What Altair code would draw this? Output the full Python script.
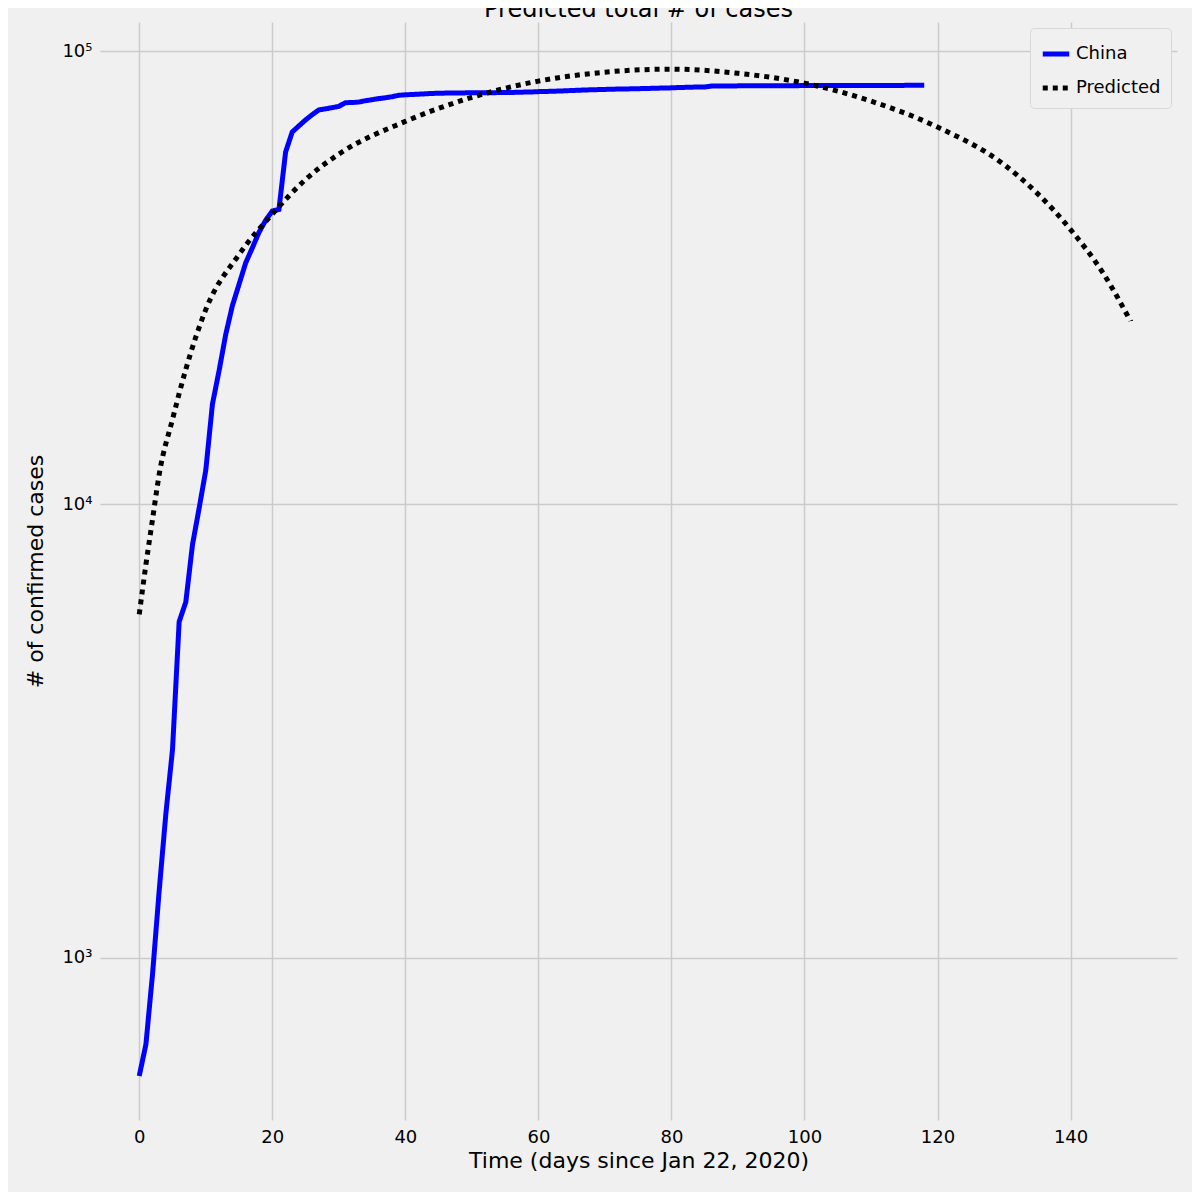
import altair as alt
import pandas as pd

china = [548, 643, 920, 1406, 2075, 2877, 5509, 6087, 8141, 9802, 11891, 16630, 19716, 23707, 27440, 30587, 34110, 36814, 39829, 42354, 44386, 44759, 59895, 66358, 68413, 70513, 72434, 74211, 74619, 75077, 75550, 77001, 77022, 77241, 77754, 78166, 78600, 78928, 79356, 79932, 80136, 80261, 80386, 80537, 80690, 80770, 80823, 80860, 80887, 80921, 80932, 80945, 80977, 81003, 81033, 81058, 81102, 81156, 81250, 81305, 81435, 81498, 81591, 81661, 81782, 81897, 81999, 82122, 82198, 82279, 82361, 82432, 82511, 82543, 82602, 82665, 82718, 82809, 82883, 82941, 83014, 83134, 83213, 83306, 83356, 83403, 83760, 83787, 83805, 83817, 83853, 83868, 83884, 83899, 83909, 83912, 83918, 83940, 83944, 83956, 83959, 83964, 83966, 83968, 83970, 83975, 83976, 84010, 84011, 84024, 84029, 84038, 84044, 84054, 84063, 84063, 84081, 84084, 84095]
pred_days = [0, 1, 2, 3, 5, 7, 10, 15, 20, 25, 30, 40, 50, 60, 70, 80, 90, 100, 110, 120, 130, 140, 145, 149]
pred_vals = [5720, 7360, 9270, 11650, 15400, 19860, 26900, 35600, 43700, 52100, 59300, 70000, 79100, 85900, 89900, 91300, 89400, 85000, 77600, 68000, 56200, 40400, 32200, 25400]

rows = [{"day": i, "cases": v, "series": "China"} for i, v in enumerate(china)]
rows += [{"day": d, "cases": v, "series": "Predicted"} for d, v in zip(pred_days, pred_vals)]
df = pd.DataFrame(rows)

enc = dict(
    x=alt.X("day:Q", title="Time (days since Jan 22, 2020)",
            scale=alt.Scale(domain=[-5.9, 156], nice=False, zero=False),
            axis=alt.Axis(values=[0, 20, 40, 60, 80, 100, 120, 140])),
    y=alt.Y("cases:Q", title="# of confirmed cases",
            scale=alt.Scale(type="log", domain=[438, 116000], nice=False),
            axis=alt.Axis(values=[1000, 10000, 100000], titlePadding=14,
                          labelExpr="datum.value==1000?'10³':datum.value==10000?'10⁴':'10⁵'")),
    color=alt.Color("series:N", title=None,
                    scale=alt.Scale(domain=["China", "Predicted"], range=["#0000ff", "#000000"]),
                    legend=alt.Legend(orient="top-right", symbolType="stroke", symbolStrokeWidth=5,
                                      symbolSize=700, labelFontSize=18, fillColor="#f0f0f0",
                                      strokeColor="#d8d8d8", padding=10, cornerRadius=4,
                                      offset=6, rowPadding=8)),
    strokeDash=alt.StrokeDash("series:N", legend=None,
                              scale=alt.Scale(domain=["China", "Predicted"], range=[[1, 0], [5, 5]])),
)

base = alt.Chart(df)
china_line = base.transform_filter("datum.series=='China'").mark_line(strokeWidth=5).encode(**enc)
pred_line = base.transform_filter("datum.series=='Predicted'").mark_line(
    strokeWidth=5, interpolate="monotone").encode(**enc)

chart = alt.layer(china_line, pred_line).properties(
    width=1077, height=1098,
    title=alt.Title("Predicted total # of cases", fontSize=24, fontWeight="normal", offset=0),
    autosize=alt.AutoSizeParams(type="none"),
    padding={"left": 92, "top": 14, "right": 15, "bottom": 72},
    background="#f0f0f0",
).configure_view(stroke=None, fill="#f0f0f0").configure_axis(
    grid=True, gridColor="#cbcbcb", gridWidth=1.5, domain=False, ticks=False,
    labelFontSize=18, titleFontSize=22, titleFontWeight="normal", labelColor="#000",
    titleColor="#000", labelPadding=8, labelFont="DejaVu Sans", titleFont="DejaVu Sans",
).configure_title(font="DejaVu Sans").configure_legend(labelFont="DejaVu Sans")

chart.save("out.html", embed_options={"renderer": "svg", "actions": False})
